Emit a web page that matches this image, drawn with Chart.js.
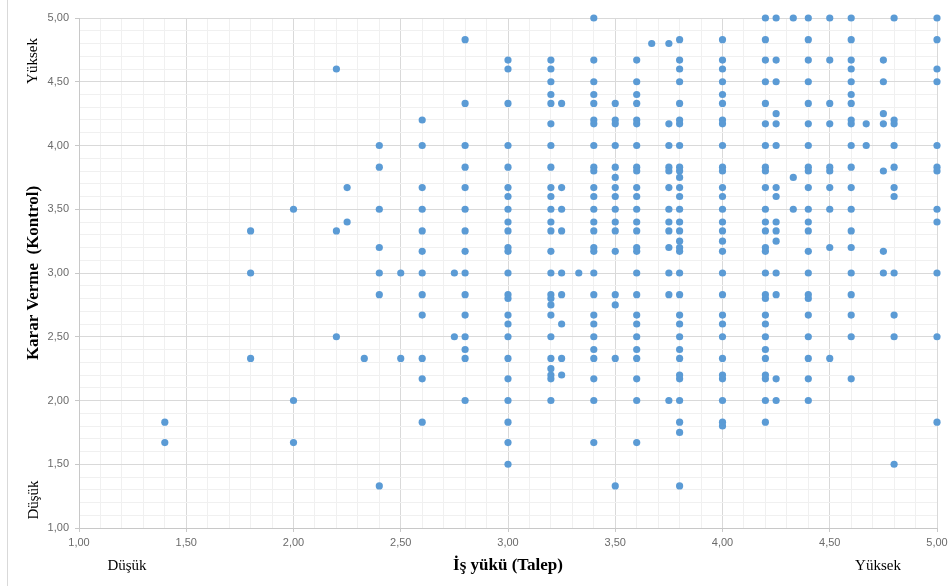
<!DOCTYPE html>
<html>
<head>
<meta charset="utf-8">
<script src="https://cdn.jsdelivr.net/npm/chart.js@4/dist/chart.umd.min.js"></script>
<style>
  html, body { margin: 0; padding: 0; background: #fff; }
  canvas { display: block; }
</style>
</head>
<body>
<canvas id="scatter" width="949" height="586"></canvas>
<script>
// İş yükü (Talep) values: one column of points per x value
const xColumns = [1.4, 1.8, 2.0, 2.2, 2.25, 2.33, 2.4, 2.5, 2.6, 2.75, 2.8, 3.0, 3.2, 3.25, 3.33, 3.4, 3.5, 3.6, 3.67, 3.75, 3.8, 4.0, 4.2, 4.25, 4.33, 4.4, 4.5, 4.6, 4.67, 4.75, 4.8, 5.0];

// Karar Verme (Kontrol) values found in each column above
const yByColumn = [
    [1.83, 1.67],
    [3.33, 3.0, 2.33],
    [3.5, 2.0, 1.67],
    [4.6, 3.33, 2.5],
    [3.67, 3.4],
    [2.33],
    [4.0, 3.83, 3.5, 3.2, 3.0, 2.83, 1.33],
    [3.0, 2.33],
    [4.2, 4.0, 3.67, 3.5, 3.33, 3.17, 3.0, 2.83, 2.67, 2.33, 2.17, 1.83],
    [3.0, 2.5],
    [4.83, 4.33, 4.0, 3.83, 3.67, 3.5, 3.33, 3.17, 3.0, 2.83, 2.67, 2.5, 2.4, 2.33, 2.0],
    [4.67, 4.6, 4.33, 4.0, 3.83, 3.67, 3.6, 3.5, 3.4, 3.33, 3.2, 3.17, 3.0, 2.83, 2.8, 2.67, 2.6, 2.5, 2.33, 2.17, 2.0, 1.83, 1.67, 1.5],
    [4.67, 4.6, 4.5, 4.4, 4.33, 4.17, 4.0, 3.83, 3.67, 3.6, 3.5, 3.4, 3.33, 3.17, 3.0, 2.83, 2.8, 2.75, 2.67, 2.5, 2.33, 2.25, 2.2, 2.17, 2.0],
    [4.33, 3.67, 3.5, 3.33, 3.0, 2.83, 2.6, 2.33, 2.2],
    [3.0],
    [5.0, 4.67, 4.5, 4.4, 4.33, 4.2, 4.17, 4.0, 3.83, 3.8, 3.67, 3.6, 3.5, 3.4, 3.33, 3.2, 3.17, 3.0, 2.83, 2.67, 2.6, 2.5, 2.4, 2.33, 2.17, 2.0, 1.67],
    [4.33, 4.2, 4.17, 4.0, 3.83, 3.75, 3.67, 3.6, 3.5, 3.4, 3.33, 3.17, 2.83, 2.75, 2.33, 1.33],
    [4.67, 4.5, 4.4, 4.33, 4.2, 4.17, 4.0, 3.83, 3.8, 3.67, 3.6, 3.5, 3.4, 3.33, 3.2, 3.17, 3.0, 2.83, 2.67, 2.6, 2.5, 2.4, 2.33, 2.17, 2.0, 1.67],
    [4.8],
    [4.8, 4.17, 4.0, 3.83, 3.8, 3.67, 3.5, 3.4, 3.33, 3.2, 3.0, 2.83, 2.0],
    [4.83, 4.67, 4.6, 4.5, 4.33, 4.2, 4.17, 4.0, 3.83, 3.8, 3.75, 3.67, 3.6, 3.5, 3.4, 3.33, 3.25, 3.2, 3.17, 3.0, 2.83, 2.67, 2.6, 2.5, 2.4, 2.33, 2.2, 2.17, 2.0, 1.83, 1.75, 1.33],
    [4.83, 4.67, 4.6, 4.5, 4.4, 4.33, 4.2, 4.17, 4.0, 3.83, 3.8, 3.67, 3.6, 3.5, 3.4, 3.33, 3.25, 3.17, 3.0, 2.83, 2.67, 2.6, 2.5, 2.33, 2.2, 2.17, 2.0, 1.83, 1.8],
    [5.0, 4.83, 4.67, 4.5, 4.33, 4.17, 4.0, 3.83, 3.8, 3.67, 3.5, 3.4, 3.33, 3.2, 3.17, 3.0, 2.83, 2.8, 2.67, 2.6, 2.5, 2.4, 2.33, 2.2, 2.17, 2.0, 1.83],
    [5.0, 4.67, 4.5, 4.25, 4.17, 4.0, 3.67, 3.6, 3.4, 3.33, 3.25, 3.0, 2.83, 2.17, 2.0],
    [5.0, 3.75, 3.5],
    [5.0, 4.83, 4.67, 4.5, 4.33, 4.17, 4.0, 3.83, 3.8, 3.67, 3.5, 3.4, 3.33, 3.17, 3.0, 2.83, 2.8, 2.67, 2.5, 2.33, 2.17, 2.0],
    [5.0, 4.67, 4.33, 4.17, 3.83, 3.8, 3.67, 3.5, 3.2, 2.33],
    [5.0, 4.83, 4.67, 4.6, 4.5, 4.4, 4.33, 4.2, 4.17, 4.0, 3.83, 3.67, 3.5, 3.33, 3.2, 3.0, 2.83, 2.67, 2.5, 2.17],
    [4.17, 4.0],
    [4.67, 4.5, 4.25, 4.17, 3.8, 3.17, 3.0],
    [5.0, 4.2, 4.17, 4.0, 3.83, 3.67, 3.6, 3.0, 2.67, 2.5, 1.5],
    [5.0, 4.83, 4.6, 4.5, 4.0, 3.83, 3.8, 3.5, 3.4, 3.0, 2.5, 1.83]
];

const axisMin = 1;
const axisMax = 5;
const xTitle = "İş yükü (Talep)";
const yTitle = "Karar Verme  (Kontrol)";
const lowLabel = "Düşük";
const highLabel = "Yüksek";

// build the point list from the columns
const points = [];
xColumns.forEach((x, i) => {
    yByColumn[i].forEach(y => points.push({ x: x, y: y }));
});

function isMajor(v) {
    return Math.abs(v * 2 - Math.round(v * 2)) < 1e-6;
}

function tickLabel(v) {
    return isMajor(v) ? v.toFixed(2).replace('.', ',') : '';
}

// grid and tick settings shared by both axes
function gridOptions() {
    return {
        color: ctx => isMajor(ctx.tick.value) ? '#d9d9d9' : '#f0f0f0',
        tickColor: ctx => isMajor(ctx.tick.value) ? '#c8c8c8' : 'rgba(0,0,0,0)',
        tickLength: 4,
        lineWidth: 1
    };
}

function drawText(ctx, text, font, x, y, rotated) {
    ctx.save();
    ctx.fillStyle = '#000';
    ctx.textAlign = 'center';
    ctx.textBaseline = 'middle';
    ctx.font = font;
    ctx.translate(x, y);
    if (rotated) ctx.rotate(-Math.PI / 2);
    ctx.fillText(text, 0, 0);
    ctx.restore();
}

// extra texts: axis titles and the Düşük / Yüksek markers
const labelsPlugin = {
    id: 'labels',
    afterDraw(chart) {
        const ctx = chart.ctx;
        const area = chart.chartArea;

        // thin frame line on the left
        ctx.save();
        ctx.strokeStyle = '#d9d9d9';
        ctx.lineWidth = 1;
        ctx.beginPath();
        ctx.moveTo(7.5, 0);
        ctx.lineTo(7.5, chart.height);
        ctx.stroke();
        ctx.restore();

        drawText(ctx, xTitle, 'bold 17px "Liberation Serif"', (area.left + area.right) / 2, 566, false);
        drawText(ctx, lowLabel, '15px "Liberation Serif"', 127, 566, false);
        drawText(ctx, highLabel, '15px "Liberation Serif"', 878, 566, false);

        drawText(ctx, yTitle, 'bold 17px "Liberation Serif"', 34, (area.top + area.bottom) / 2, true);
        drawText(ctx, highLabel, '15px "Liberation Serif"', 33, 61, true);
        drawText(ctx, lowLabel, '15px "Liberation Serif"', 34, 500, true);
    }
};

Chart.defaults.font.family = '"Liberation Sans", Arial, sans-serif';

new Chart(document.getElementById('scatter').getContext('2d'), {
    type: 'scatter',
    data: {
        datasets: [{
            label: 'Karar Verme',
            data: points,
            backgroundColor: '#5b9bd5',
            borderColor: '#5b9bd5',
            borderWidth: 0,
            pointRadius: 3.6,
            pointHoverRadius: 3.6,
            clip: false
        }]
    },
    options: {
        responsive: false,
        animation: false,
        events: [],
        layout: { padding: { top: 18, right: 12, left: 0, bottom: 0 } },
        plugins: {
            legend: { display: false },
            tooltip: { enabled: false }
        },
        scales: {
            x: {
                type: 'linear',
                min: axisMin,
                max: axisMax,
                grid: gridOptions(),
                border: { color: '#c8c8c8' },
                ticks: {
                    stepSize: 0.1,
                    autoSkip: false,
                    maxRotation: 0,
                    padding: 4,
                    color: '#6b6b6b',
                    font: { size: 11 },
                    callback: tickLabel
                },
                afterFit(scale) {
                    scale.height = 58;
                    scale.paddingRight = 0;
                    scale.paddingLeft = 0;
                }
            },
            y: {
                type: 'linear',
                min: axisMin,
                max: axisMax,
                grid: gridOptions(),
                border: { color: '#c8c8c8' },
                ticks: {
                    stepSize: 0.1,
                    autoSkip: false,
                    padding: 6,
                    color: '#6b6b6b',
                    font: { size: 11 },
                    callback: tickLabel
                },
                afterFit(scale) {
                    scale.width = 79;
                    scale.paddingTop = 0;
                    scale.paddingBottom = 0;
                }
            }
        }
    },
    plugins: [labelsPlugin]
});
</script>
</body>
</html>
